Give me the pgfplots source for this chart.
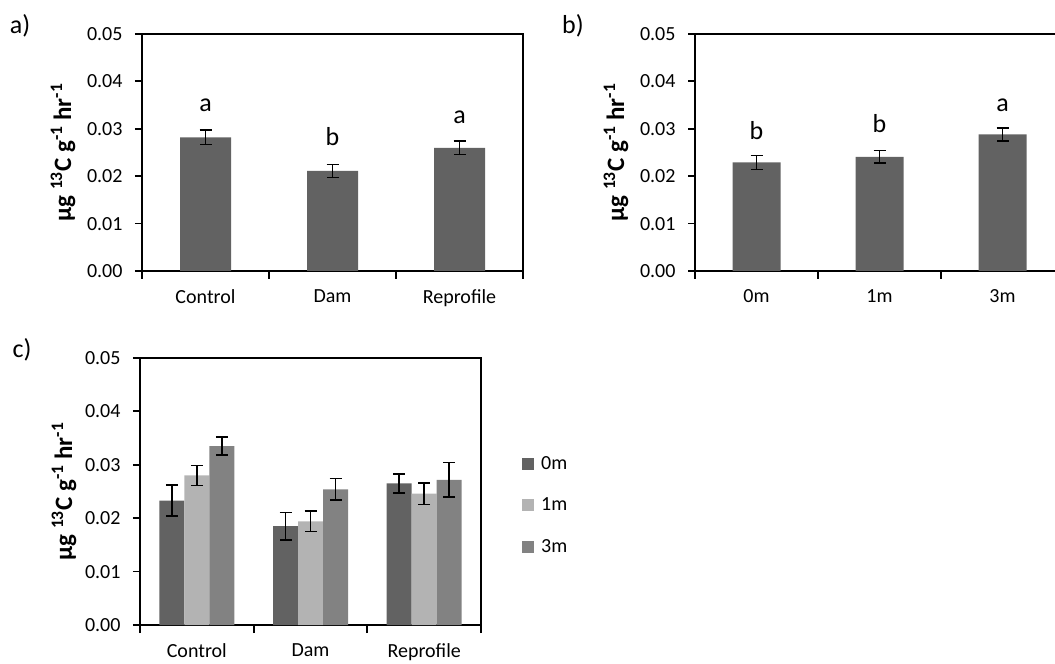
\documentclass[border=0pt]{standalone}
\usepackage{fontspec}
\setmainfont{Carlito}
\usepackage{pgfplots}
\usepackage{pgfplotstable}
\pgfplotsset{compat=1.18}
\definecolor{dk}{HTML}{626262}
\definecolor{lt}{HTML}{B3B3B3}
\definecolor{md}{HTML}{828282}
\newcommand{\tf}{\fontsize{20}{24}\selectfont}
\newcommand{\lf}{\fontsize{25}{30}\selectfont}
\newcommand{\af}{\fontsize{26}{30}\selectfont}

\pgfplotstableread{
x y e
0 0.0282 0.0015
1 0.0211 0.0014
2 0.0260 0.0014
}\tabA
\pgfplotstableread{
x y e
0 0.0229 0.0015
1 0.0241 0.0013
2 0.0288 0.0014
}\tabB
\pgfplotstableread{
x y e
0 0.0233 0.0029
1 0.0185 0.0026
2 0.0265 0.0018
}\tabCz
\pgfplotstableread{
x y e
0 0.0280 0.0019
1 0.0194 0.0019
2 0.0246 0.0020
}\tabCo
\pgfplotstableread{
x y e
0 0.0335 0.0017
1 0.0254 0.0020
2 0.0272 0.0032
}\tabCt

\pgfplotsset{
 panel/.style={
  scale only axis, anchor=south west,
  axis line style={line width=1.8pt},
  ymin=0, ymax=0.05, ytick={0,0.01,0.02,0.03,0.04,0.05},
  scaled y ticks=false,
  yticklabel style={/pgf/number format/fixed, /pgf/number format/fixed zerofill,
    /pgf/number format/precision=2, /pgf/number format/assume math mode=true, xshift=-9pt},
  xticklabel style={yshift=-8pt},
  ticklabel style={font=\tf},
  tick align=outside, xtick pos=bottom, ytick pos=left,
  major tick length=7pt, minor tick length=8pt,
  tick style={line width=1.8pt, black},
  xmin=-0.5, xmax=2.5, xtick={0,1,2},
  major x tick style={draw=none},
  minor xtick={-0.5,0.5,1.5,2.5},
  ylabel={\bfseries µg \textsuperscript{13}C g\textsuperscript{-1} hr\textsuperscript{-1}},
  ybar, 
 },
 eb/.style={error bars/y dir=both, error bars/y explicit,
  error bars/error bar style={line width=1.6pt, black},
  error bars/error mark options={rotate=90, mark size=6pt, line width=1.6pt, black}},
}

\begin{document}
\begin{tikzpicture}
\path[use as bounding box] (0,0) rectangle (1055pt,664pt);

\node[font=\af] at (20pt,638pt) {a)};
\node[font=\af] at (573pt,638pt) {b)};
\node[font=\af] at (22pt,314pt) {c)};

% panel a
\begin{axis}[panel, at={(142pt,393pt)}, width=381pt, height=237pt,
  ylabel style={font=\lf, at={(rel axis cs:0,0.5)}, anchor=center, yshift=79pt},
  xticklabels={Control,Dam,Reprofile}, bar width=51pt, bar shift=0pt]
\addplot[fill=dk, draw=none, eb] table[x=x, y=y, y error=e] {\tabA};
\node[font=\af] at (axis cs:0,0.0350) {a};
\node[font=\af] at (axis cs:1,0.0283) {b};
\node[font=\af] at (axis cs:2,0.0325) {a};
\end{axis}

% panel b
\begin{axis}[panel, at={(695pt,393pt)}, width=369pt, height=237pt,
  ylabel style={font=\lf, at={(rel axis cs:0,0.5)}, anchor=center, yshift=79pt},
  xticklabels={0m,1m,3m}, bar width=48pt, bar shift=0pt]
\addplot[fill=dk, draw=none, eb] table[x=x, y=y, y error=e] {\tabB};
\node[font=\af] at (axis cs:0,0.0297) {b};
\node[font=\af] at (axis cs:1,0.0312) {b};
\node[font=\af] at (axis cs:2,0.0350) {a};
\end{axis}

% panel c
\begin{axis}[panel, at={(140pt,39pt)}, width=341pt, height=267pt,
  ylabel style={font=\lf, at={(rel axis cs:0,0.5)}, anchor=center, yshift=76pt},
  xticklabels={Control,Dam,Reprofile}, ybar=0pt, bar width=25pt,
  legend style={at={(1.12,0.449)}, anchor=west, draw=none, fill=none, inner sep=0pt,
    font=\tf, row sep=23pt, /tikz/every odd column/.append style={column sep=5pt}},
  legend cell align=left,
  legend image code/.code={\fill[#1] (0pt,-6pt) rectangle (12pt,6pt);}]
\addplot[fill=dk, draw=none, eb] table[x=x, y=y, y error=e] {\tabCz};
\addplot[fill=lt, draw=none, eb] table[x=x, y=y, y error=e] {\tabCo};
\addplot[fill=md, draw=none, eb] table[x=x, y=y, y error=e] {\tabCt};
\legend{0m,1m,3m}
\end{axis}
\end{tikzpicture}
\end{document}
